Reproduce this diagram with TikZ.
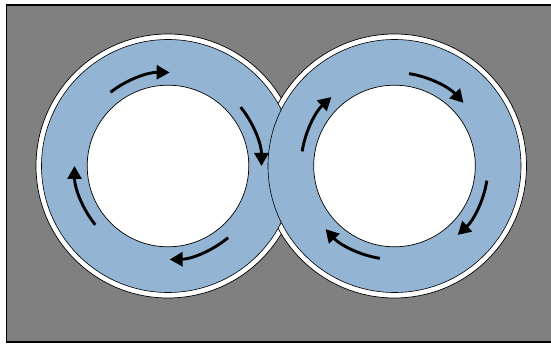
\documentclass[tikz,border=0pt]{standalone}
\usetikzlibrary{arrows.meta}
\definecolor{panel}{RGB}{128,128,128}
\definecolor{channel}{RGB}{147,180,210}
\tikzset{
  housing/.style={fill=panel, draw=black, line width=1.6pt},
  rim/.style={fill=white, draw=black, line width=0.7pt},
  groove/.style={fill=channel, draw=black, line width=0.6pt},
  core/.style={fill=white, draw=black, line width=0.7pt},
  flow/.style={draw=black, line width=2.9pt,
    -{Triangle[length=13pt,width=14pt]}},
}
\begin{document}
\begin{tikzpicture}[x=1pt,y=1pt]
  \useasboundingbox (0,0) rectangle (551,345);
  % housing plate
  \draw[housing] (6.5,3) rectangle (560,340);
  % ring centres
  \coordinate (L) at (168,179);
  \coordinate (R) at (394.5,179);
  % outer white rims
  \draw[rim] (L) circle[radius=132pt];
  \draw[rim] (R) circle[radius=132pt];
  % blue channels
  \draw[groove] (L) circle[radius=126.5pt];
  \draw[groove] (R) circle[radius=126.5pt];
  % white cores
  \draw[core] (L) circle[radius=80.8pt];
  \draw[core] (R) circle[radius=80.8pt];
  % circulation arrows, left ring
  \foreach \e in {89,0,-89,180} {
    \draw[flow] ([shift={(\e+39:93.5pt)}]L)
      arc[start angle=\e+39, end angle=\e, radius=93.5pt];
  }
  % circulation arrows, right ring
  \foreach \e in {132.5,42.5,-47.5,-137.5} {
    \draw[flow] ([shift={(\e+38.5:93.5pt)}]R)
      arc[start angle=\e+38.5, end angle=\e, radius=93.5pt];
  }
\end{tikzpicture}
\end{document}
